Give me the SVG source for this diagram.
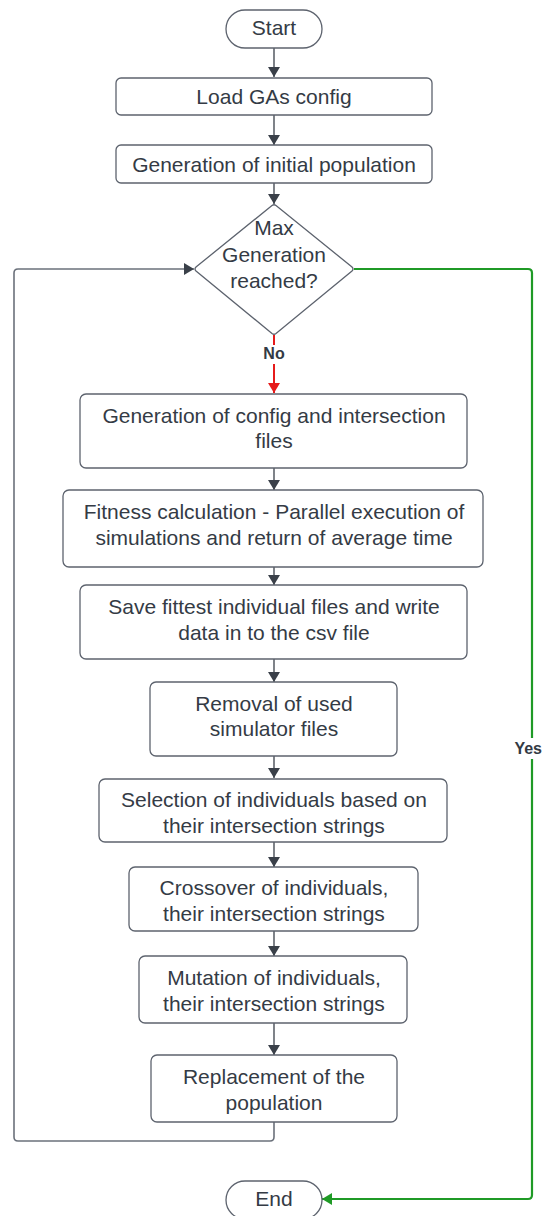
<svg xmlns="http://www.w3.org/2000/svg" width="544" height="1216" viewBox="0 0 544 1216">
  <defs>
    <style>
      .box { fill: #ffffff; stroke: #5d636e; stroke-width: 1.3; }
      .lbl { font-family: "Liberation Sans", Arial, sans-serif; font-size: 21px; fill: #343b45; text-anchor: middle; }
      .edge { fill: none; stroke: #3a4049; stroke-width: 1.3; }
      .loop { fill: none; stroke: #6b717b; stroke-width: 1.6; }
      .yes { fill: none; stroke: #1f9a26; stroke-width: 2.2; }
      .no { fill: none; stroke: #e61b1b; stroke-width: 2; }
      .tag { font-family: "Liberation Sans", Arial, sans-serif; font-size: 16px; font-weight: bold; fill: #333a44; text-anchor: middle; }
    </style>
    <marker id="ah" viewBox="0 0 10 12" refX="10" refY="6" markerWidth="10" markerHeight="12" markerUnits="userSpaceOnUse" orient="auto">
      <path d="M0,0 L10,6 L0,12 Z" fill="#3a4049"/>
    </marker>
    <marker id="ahRed" viewBox="0 0 10 12" refX="10" refY="6" markerWidth="10" markerHeight="12" markerUnits="userSpaceOnUse" orient="auto">
      <path d="M0,0 L10,6 L0,12 Z" fill="#e61b1b"/>
    </marker>
    <marker id="ahGreen" viewBox="0 0 10 12" refX="10" refY="6" markerWidth="14" markerHeight="12" markerUnits="userSpaceOnUse" orient="auto">
      <path d="M0,0 L10,6 L0,12 Z" fill="#1f9a26"/>
    </marker>
  </defs>
  <rect width="544" height="1216" fill="#ffffff"/>

  <!-- connectors -->
  <g id="connectors">
    <path class="edge" d="M274,48 V77" marker-end="url(#ah)"/>
    <path class="edge" d="M274,115 V145" marker-end="url(#ah)"/>
    <path class="edge" d="M274,183 V204" marker-end="url(#ah)"/>
    <path class="no" d="M274,335 V345"/>
    <path class="no" d="M274,364 V393" marker-end="url(#ahRed)"/>
    <path class="edge" d="M274,468 V490" marker-end="url(#ah)"/>
    <path class="edge" d="M274,567 V585" marker-end="url(#ah)"/>
    <path class="edge" d="M274,659 V682" marker-end="url(#ah)"/>
    <path class="edge" d="M274,756 V778" marker-end="url(#ah)"/>
    <path class="edge" d="M274,842 V867" marker-end="url(#ah)"/>
    <path class="edge" d="M274,931 V956" marker-end="url(#ah)"/>
    <path class="edge" d="M274,1023 V1055" marker-end="url(#ah)"/>
    <!-- loop back to the generation check -->
    <path class="loop" d="M274,1122 V1137 Q274,1141 270,1141 H18 Q14,1141 14,1137 V273 Q14,269 18,269 H194" marker-end="url(#ah)"/>
    <!-- exit when max generation reached -->
    <path class="yes" d="M354,269 H528 Q532,269 532,273 V738"/>
    <path class="yes" d="M532,759 V1195 Q532,1199 528,1199 H322" marker-end="url(#ahGreen)"/>
    <text class="tag" x="274" y="359">No</text>
    <text class="tag" x="542" y="754" style="text-anchor:end">Yes</text>
  </g>

  <g id="start">
    <rect class="box" x="226" y="10" width="96" height="38" rx="19"/>
    <text class="lbl" x="274" y="35">Start</text>
  </g>
  <g id="load-config">
    <rect class="box" x="116" y="78" width="316" height="37" rx="5"/>
    <text class="lbl" x="274" y="104">Load GAs config</text>
  </g>
  <g id="initial-population">
    <rect class="box" x="116" y="145" width="316" height="38" rx="5"/>
    <text class="lbl" x="274" y="172">Generation of initial population</text>
  </g>
  <g id="max-generation">
    <path class="box" d="M272,205.5 Q274,204 276,205.5 L352,267 Q354,269 352,271 L276,333.5 Q274,335 272,333.5 L196,271 Q194,269 196,267 Z"/>
    <text class="lbl" x="274" y="235">Max</text>
    <text class="lbl" x="274" y="262">Generation</text>
    <text class="lbl" x="274" y="288">reached?</text>
  </g>
  <g id="generate-files">
    <rect class="box" x="80" y="394" width="387" height="74" rx="6"/>
    <text class="lbl" x="274" y="423">Generation of config and intersection</text>
    <text class="lbl" x="274" y="448">files</text>
  </g>
  <g id="fitness">
    <rect class="box" x="63" y="490" width="420" height="77" rx="6"/>
    <text class="lbl" x="274" y="519">Fitness calculation - Parallel execution of</text>
    <text class="lbl" x="274" y="545">simulations and return of average time</text>
  </g>
  <g id="save-fittest">
    <rect class="box" x="80" y="585" width="387" height="74" rx="6"/>
    <text class="lbl" x="274" y="614">Save fittest individual files and write</text>
    <text class="lbl" x="274" y="640">data in to the csv file</text>
  </g>
  <g id="cleanup">
    <rect class="box" x="150" y="682" width="247" height="74" rx="6"/>
    <text class="lbl" x="274" y="711">Removal of used</text>
    <text class="lbl" x="274" y="736">simulator files</text>
  </g>
  <g id="selection">
    <rect class="box" x="99" y="779" width="348" height="63" rx="6"/>
    <text class="lbl" x="274" y="807">Selection of individuals based on</text>
    <text class="lbl" x="274" y="833">their intersection strings</text>
  </g>
  <g id="crossover">
    <rect class="box" x="129" y="867" width="289" height="64" rx="6"/>
    <text class="lbl" x="274" y="895">Crossover of individuals,</text>
    <text class="lbl" x="274" y="921">their intersection strings</text>
  </g>
  <g id="mutation">
    <rect class="box" x="139" y="956" width="268" height="67" rx="6"/>
    <text class="lbl" x="274" y="985">Mutation of individuals,</text>
    <text class="lbl" x="274" y="1011">their intersection strings</text>
  </g>
  <g id="replacement">
    <rect class="box" x="151" y="1055" width="246" height="67" rx="6"/>
    <text class="lbl" x="274" y="1084">Replacement of the</text>
    <text class="lbl" x="274" y="1110">population</text>
  </g>
  <g id="end">
    <rect class="box" x="226" y="1181" width="96" height="38" rx="19"/>
    <text class="lbl" x="274" y="1206">End</text>
  </g>
</svg>
